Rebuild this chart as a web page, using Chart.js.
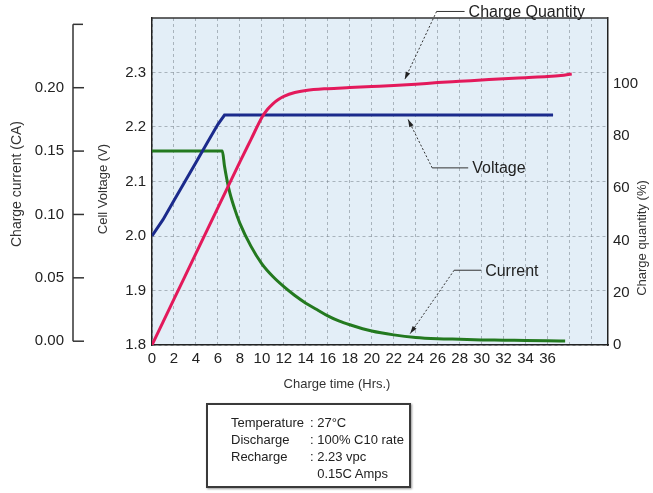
<!DOCTYPE html>
<html><head><meta charset="utf-8">
<script src="https://cdn.jsdelivr.net/npm/chart.js@4/dist/chart.umd.min.js"></script>
<style>
html,body{margin:0;padding:0;background:#fff;}
#wrap{position:relative;width:653px;height:493px;overflow:hidden;}
canvas{position:absolute;left:0;top:0;}
#info{position:absolute;left:206px;top:403px;width:205px;height:85px;border:2px solid #3a3a3a;box-shadow:1px 1px 2px #999;
 font:13px "Liberation Sans",Arial,sans-serif;color:#222;box-sizing:border-box;padding:9px 0 0 23px;}
#info table{border-collapse:collapse;}
#info td{padding:0;line-height:17px;white-space:pre;}
</style></head>
<body><div id="wrap"><canvas id="c" width="653" height="493"></canvas><div id="info"></div></div>
<script>
// ---- data ----
const TIME_CURRENT = [0, 6.4, 6.6, 7, 7.5, 8, 9, 10, 11, 12, 13, 14, 15, 16, 17, 18, 20, 22, 24, 26, 28, 30, 32, 34, 36, 37.6];
const CURRENT_CA   = [0.150, 0.150, 0.138, 0.120, 0.105, 0.093, 0.075, 0.061, 0.051, 0.043, 0.036, 0.030, 0.025, 0.020, 0.016, 0.013, 0.008, 0.005, 0.003, 0.002, 0.0015, 0.001, 0.0008, 0.0005, 0.0003, 0.0002];

const TIME_VOLTAGE = [0, 1, 2, 3, 4, 5, 6, 6.6, 36.5];
const VOLTAGE_V    = [2.00, 2.03, 2.065, 2.10, 2.135, 2.17, 2.205, 2.222, 2.222];

const TIME_CHARGE  = [0, 2, 4, 6, 8, 9, 10, 10.5, 11, 11.5, 12, 13, 14, 16, 18, 20, 22, 24, 26, 28, 30, 32, 34, 36, 37.2, 38.2];
const CHARGE_PCT   = [0, 17.5, 35, 52.5, 70, 78.5, 87, 90, 92.2, 93.8, 95, 96.5, 97.3, 98, 98.4, 98.8, 99.2, 99.7, 100.3, 100.8, 101.3, 101.8, 102.2, 102.6, 103, 103.6];

const X_TICKS       = [0, 2, 4, 6, 8, 10, 12, 14, 16, 18, 20, 22, 24, 26, 28, 30, 32, 34, 36];
const X_GRID_EXTRA  = [38, 40];
const VOLT_TICKS    = [1.8, 1.9, 2.0, 2.1, 2.2, 2.3];
const CURRENT_TICKS = [0.00, 0.05, 0.10, 0.15, 0.20];
const CHARGE_TICKS  = [0, 20, 40, 60, 80, 100];

const INFO_ROWS = [
  ["Temperature", ": 27°C"],
  ["Discharge",   ": 100% C10 rate"],
  ["Recharge",    ": 2.23 vpc"],
  ["",            "  0.15C Amps"]
];

// callout anchors in data units
const ANNOTATIONS = [
  {label: "Charge Quantity", axis: "yQ", tip: [23, 101.5], elbow: [25.9, 127.5], gap: 32},
  {label: "Voltage",         axis: "yV", tip: [23.3, 2.214], elbow: [25.5, 2.125], gap: 40},
  {label: "Current",         axis: "yC", tip: [23.5, 0.006], elbow: [27.5, 0.056], gap: 31}
];

// ---- info box ----
(function(){
  let h = '<table>';
  INFO_ROWS.forEach(r => { h += '<tr><td style="padding-right:6px">' + r[0] + '</td><td>' + r[1] + '</td></tr>'; });
  document.getElementById('info').innerHTML = h + '</table>';
})();

const FONT = '"Liberation Sans", Arial, Helvetica, sans-serif';
Chart.defaults.font.family = FONT;
Chart.defaults.color = '#222';

const pts = (xs, ys) => xs.map((x, i) => ({x: x, y: ys[i]}));
const setTicks = arr => scale => { scale.ticks = arr.map(v => ({value: v})); };
const noPad = w => s => { if (w !== undefined) s.width = w; s.paddingTop = 0; s.paddingBottom = 0; };

function vText(ctx, text, x, y) {
  ctx.save();
  ctx.translate(x, y); ctx.rotate(-Math.PI / 2);
  ctx.fillText(text, 0, 0);
  ctx.restore();
}

const decor = {
  id: 'decor',
  beforeDraw(chart) {
    const {ctx, chartArea: a} = chart;
    ctx.save();
    ctx.fillStyle = '#e3eef7';
    ctx.fillRect(a.left, a.top, a.right - a.left, a.bottom - a.top);
    ctx.restore();
  },
  afterDraw(chart) {
    const {ctx, chartArea: a, scales} = chart;
    ctx.save();
    // top frame line
    ctx.strokeStyle = '#333'; ctx.lineWidth = 1.5;
    ctx.beginPath(); ctx.moveTo(a.left, a.top); ctx.lineTo(a.right, a.top); ctx.stroke();

    // detached current axis
    const sc = scales.yC;
    const ax = sc.right - 13;
    const yTop = sc.getPixelForValue(0.25);
    const yBot = sc.getPixelForValue(0);
    ctx.strokeStyle = '#333'; ctx.lineWidth = 1.5;
    ctx.beginPath(); ctx.moveTo(ax, yTop); ctx.lineTo(ax, yBot); ctx.stroke();
    ctx.beginPath(); ctx.moveTo(ax, yTop); ctx.lineTo(ax + 10, yTop); ctx.stroke();
    CURRENT_TICKS.forEach(v => {
      const y = sc.getPixelForValue(v);
      ctx.beginPath(); ctx.moveTo(ax, y); ctx.lineTo(ax + 11, y); ctx.stroke();
    });

    // axis titles placed as in the reference
    ctx.fillStyle = '#333';
    ctx.font = '13px ' + FONT;
    ctx.textAlign = 'center'; ctx.textBaseline = 'middle';
    ctx.fillText('Charge time (Hrs.)', 337, 384);
    vText(ctx, 'Charge quantity (%)', 642, 238);
    vText(ctx, 'Cell Voltage (V)', 103, 189);
    ctx.font = '14px ' + FONT;
    vText(ctx, 'Charge current (CA)', 17, 184);

    // callouts
    ctx.font = '16px ' + FONT;
    ctx.textAlign = 'left';
    ANNOTATIONS.forEach(an => {
      const ys = scales[an.axis];
      const tx = scales.x.getPixelForValue(an.tip[0]);
      const ty = ys.getPixelForValue(an.tip[1]);
      const ex = scales.x.getPixelForValue(an.elbow[0]);
      const ey = ys.getPixelForValue(an.elbow[1]);
      const textX = ex + an.gap;
      ctx.strokeStyle = '#333'; ctx.lineWidth = 1;
      ctx.setLineDash([]);
      ctx.beginPath(); ctx.moveTo(ex, ey); ctx.lineTo(textX - 4, ey); ctx.stroke();
      ctx.setLineDash([2, 2]);
      ctx.beginPath(); ctx.moveTo(ex, ey); ctx.lineTo(tx, ty); ctx.stroke();
      ctx.setLineDash([]);
      const ang = Math.atan2(ty - ey, tx - ex);
      ctx.fillStyle = '#222';
      ctx.beginPath();
      ctx.moveTo(tx, ty);
      ctx.lineTo(tx - 8 * Math.cos(ang - 0.3), ty - 8 * Math.sin(ang - 0.3));
      ctx.lineTo(tx - 8 * Math.cos(ang + 0.3), ty - 8 * Math.sin(ang + 0.3));
      ctx.closePath(); ctx.fill();
      ctx.fillText(an.label, textX, ey + 1);
    });
    ctx.restore();
  }
};

const gridColor = 'rgba(110,120,130,0.5)';
const TICK_FONT = {size: 15};

new Chart(document.getElementById('c'), {
  type: 'line',
  data: {
    datasets: [
      {label: 'Charge Quantity', data: pts(TIME_CHARGE, CHARGE_PCT), yAxisID: 'yQ', borderColor: '#e3195b', borderWidth: 3, pointRadius: 0, cubicInterpolationMode: 'monotone', order: 0},
      {label: 'Voltage', data: pts(TIME_VOLTAGE, VOLTAGE_V), yAxisID: 'yV', borderColor: '#1b2a8c', borderWidth: 3, pointRadius: 0, tension: 0, order: 1},
      {label: 'Current', data: pts(TIME_CURRENT, CURRENT_CA), yAxisID: 'yC', borderColor: '#23791f', borderWidth: 3, pointRadius: 0, cubicInterpolationMode: 'monotone', order: 2}
    ]
  },
  options: {
    responsive: false, animation: false, devicePixelRatio: 1,
    layout: {padding: {top: 18, right: 0, bottom: 98, left: 0}},
    plugins: {legend: {display: false}, tooltip: {enabled: false}},
    scales: {
      x: {
        type: 'linear', position: 'bottom', min: 0, max: 41.5,
        afterBuildTicks: setTicks(X_TICKS.concat(X_GRID_EXTRA)),
        afterFit: s => { s.height = 50; s.paddingLeft = 0; s.paddingRight = 0; },
        grid: {color: gridColor, lineWidth: 1, drawTicks: false},
        border: {display: true, color: '#222', width: 1.5, dash: [3, 3]},
        ticks: {padding: 5, autoSkip: false, maxRotation: 0, minRotation: 0, font: TICK_FONT, color: '#222',
                callback: v => X_TICKS.includes(v) ? String(v) : ''},
        title: {display: false}
      },
      yV: {
        type: 'linear', position: 'left', weight: 0, min: 1.8, max: 2.4,
        afterBuildTicks: setTicks(VOLT_TICKS),
        afterFit: noPad(66),
        grid: {color: gridColor, lineWidth: 1, drawTicks: false},
        border: {display: true, color: '#222', width: 1.5, dash: [3, 3]},
        ticks: {padding: 6, font: TICK_FONT, color: '#222', callback: v => Number(v).toFixed(1)},
        title: {display: false}
      },
      yC: {
        type: 'linear', position: 'left', weight: 1, min: -0.003, max: 0.255,
        afterBuildTicks: setTicks(CURRENT_TICKS),
        afterFit: noPad(86),
        grid: {display: false, drawTicks: false},
        border: {display: false},
        ticks: {padding: 22, font: TICK_FONT, color: '#222', callback: v => Number(v).toFixed(2)},
        title: {display: false}
      },
      yQ: {
        type: 'linear', position: 'right', min: 0, max: 125,
        afterBuildTicks: setTicks(CHARGE_TICKS),
        afterFit: noPad(45),
        grid: {drawOnChartArea: false, drawTicks: false},
        border: {display: true, color: '#222', width: 1.5},
        ticks: {padding: 5, font: TICK_FONT, color: '#222'},
        title: {display: false}
      }
    }
  },
  plugins: [decor]
});
</script>
</body></html>
